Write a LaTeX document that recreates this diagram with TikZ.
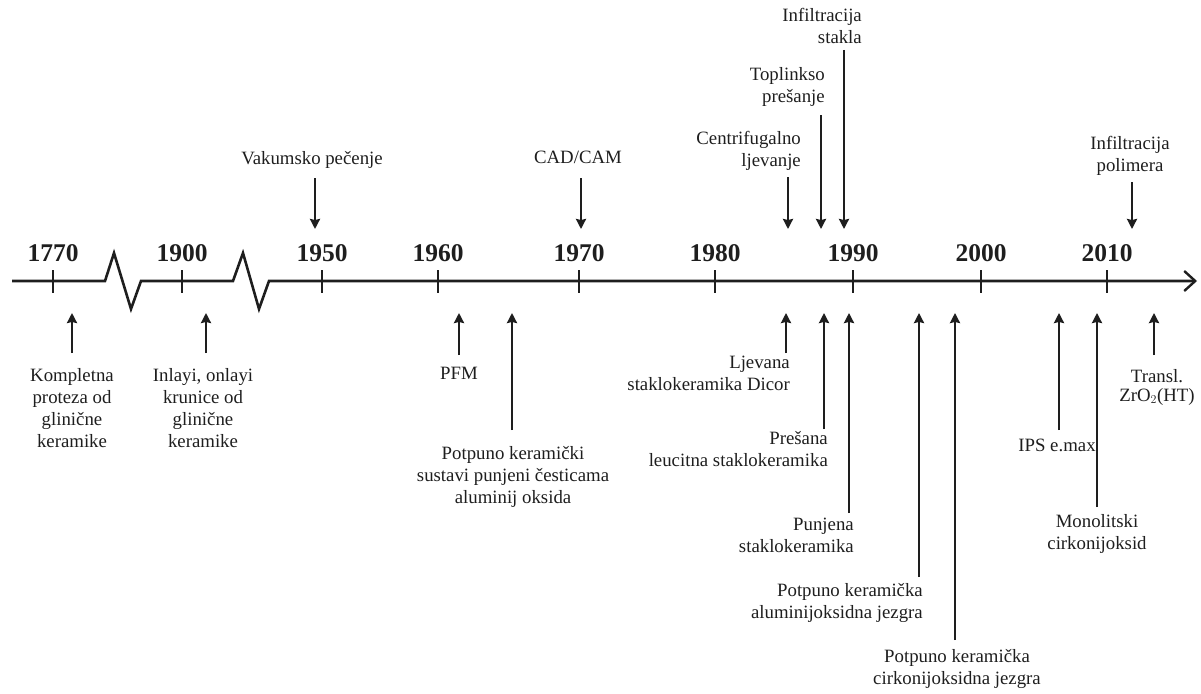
\documentclass[tikz,border=0pt]{standalone}
\usepackage{fontspec}
\setmainfont{Liberation Serif}
\usetikzlibrary{arrows.meta}
\definecolor{ink}{HTML}{1E1E1E}
\begin{document}
\begin{tikzpicture}[x=1pt,y=-1pt,
  txt/.style={inner sep=0pt,text=ink,font=\fontsize{18.8}{22}\selectfont,align=center},
  txtr/.style={txt,align=right,anchor=north east},
  txtc/.style={txt,anchor=north},
  yr/.style={inner sep=0pt,text=ink,font=\fontsize{25.5}{25.5}\selectfont\bfseries,anchor=base},
  arr/.style={draw=ink,line width=2.2pt,-{Stealth[length=10pt,width=10pt,inset=1pt]}},
  axisline/.style={draw=ink,line width=2.6pt,-{Straight Barb[length=11pt,width=20pt,line width=2.4pt]}},
  tickline/.style={draw=ink,line width=2.2pt}]
\useasboundingbox (0,0) rectangle (1201,693);

% axis with two breaks
\coordinate (ax0) at (12,281);
\coordinate (ax1) at (1197,281);
\draw[axisline] (ax0) -- (105,281) -- (114,253) -- (131,309) -- (141,281) -- (233,281) -- (243,253) -- (259,309) -- (269,281) -- (ax1);

% ticks and years
\foreach \n/\x in {1770/53,1900/182,1950/322,1960/438,1970/579,1980/715,1990/853,2000/981,2010/1107}{
  \coordinate (t\n a) at (\x,270);
  \coordinate (t\n b) at (\x,293);
  \draw[tickline] (t\n a) -- (t\n b);
  \node[yr] (y\n) at (\x,261) {\n};
}

% events below the axis
\node[txtc] (kom) at (72,368) {Kompletna\\proteza od\\glinične\\keramike};
\coordinate (kom1) at (72,353); \coordinate (kom2) at (72,313);
\draw[arr] (kom1) -- (kom2);

\node[txtc] (inl) at (203,368) {Inlayi, onlayi\\krunice od\\glinične\\keramike};
\coordinate (inl1) at (206,353); \coordinate (inl2) at (206,313);
\draw[arr] (inl1) -- (inl2);

\node[txtc] (pfm) at (459,367) {PFM};
\coordinate (pfm1) at (459,355); \coordinate (pfm2) at (459,313);
\draw[arr] (pfm1) -- (pfm2);

\node[txtc] (pks) at (513,446) {Potpuno keramički\\sustavi punjeni česticama\\aluminij oksida};
\coordinate (pks1) at (512,430); \coordinate (pks2) at (512,313);
\draw[arr] (pks1) -- (pks2);

\node[txtr] (ljv) at (790,356) {Ljevana\\staklokeramika Dicor};
\coordinate (ljv1) at (786,353); \coordinate (ljv2) at (786,313);
\draw[arr] (ljv1) -- (ljv2);

\node[txtr] (pre) at (828,431) {Prešana\\leucitna staklokeramika};
\coordinate (pre1) at (824,429); \coordinate (pre2) at (824,313);
\draw[arr] (pre1) -- (pre2);

\node[txtr] (pun) at (854,518) {Punjena\\staklokeramika};
\coordinate (pun1) at (849,513); \coordinate (pun2) at (849,313);
\draw[arr] (pun1) -- (pun2);

\node[txtr] (alu) at (923,583) {Potpuno keramička\\aluminijoksidna jezgra};
\coordinate (alu1) at (919,577); \coordinate (alu2) at (919,313);
\draw[arr] (alu1) -- (alu2);

\node[txtc] (cir) at (957,649) {Potpuno keramička\\cirkonijoksidna jezgra};
\coordinate (cir1) at (955,640); \coordinate (cir2) at (955,313);
\draw[arr] (cir1) -- (cir2);

\node[txtc] (ips) at (1057,439) {IPS e.max};
\coordinate (ips1) at (1059,430); \coordinate (ips2) at (1059,313);
\draw[arr] (ips1) -- (ips2);

\node[txtc] (mon) at (1097,514) {Monolitski\\cirkonijoksid};
\coordinate (mon1) at (1097,507); \coordinate (mon2) at (1097,313);
\draw[arr] (mon1) -- (mon2);

\node[txtc,font=\fontsize{18.8}{19}\selectfont] (trz) at (1157,369) {Transl.\\ZrO$_2$(HT)};
\coordinate (trz1) at (1154,355); \coordinate (trz2) at (1154,313);
\draw[arr] (trz1) -- (trz2);

% events above the axis
\node[txtc] (vak) at (312,151) {Vakumsko pečenje};
\coordinate (vak1) at (315,178); \coordinate (vak2) at (315,229);
\draw[arr] (vak1) -- (vak2);

\node[txtc] (cad) at (578,151) {CAD/CAM};
\coordinate (cad1) at (581,178); \coordinate (cad2) at (581,229);
\draw[arr] (cad1) -- (cad2);

\node[txtr] (cen) at (801,131) {Centrifugalno\\ljevanje};
\coordinate (cen1) at (788,177); \coordinate (cen2) at (788,229);
\draw[arr] (cen1) -- (cen2);

\node[txtr] (top) at (825,67) {Toplinkso\\prešanje};
\coordinate (top1) at (821,115); \coordinate (top2) at (821,229);
\draw[arr] (top1) -- (top2);

\node[txtr] (ins) at (862,8) {Infiltracija\\stakla};
\coordinate (ins1) at (844,50); \coordinate (ins2) at (844,229);
\draw[arr] (ins1) -- (ins2);

\node[txtc] (inp) at (1130,136) {Infiltracija\\polimera};
\coordinate (inp1) at (1132,182); \coordinate (inp2) at (1132,229);
\draw[arr] (inp1) -- (inp2);
\end{tikzpicture}
\end{document}
